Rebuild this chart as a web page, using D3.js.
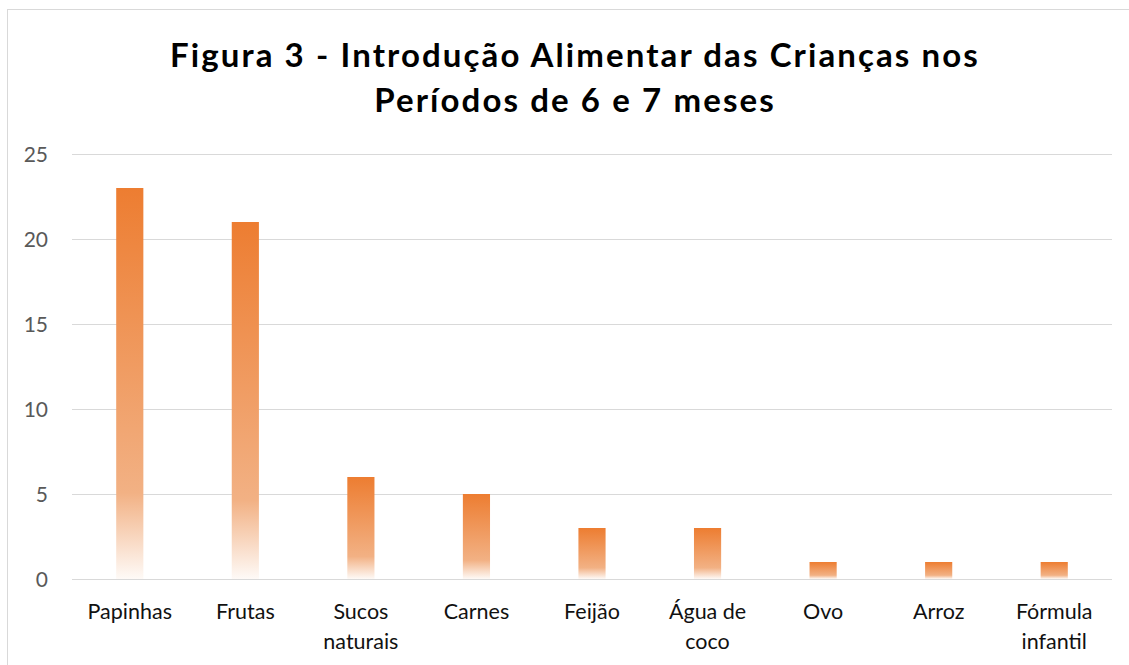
<!DOCTYPE html>
<html>
<head>
<meta charset="utf-8">
<script src="https://cdn.jsdelivr.net/npm/d3@7"></script>
<style>
  body { margin: 0; background: #fff; }
  svg { display: block; }
</style>
</head>
<body>
<div id="chart"></div>
<script>
const categories = [['Papinhas'], ['Frutas'], ['Sucos', 'naturais'], ['Carnes'], ['Feijão'],
  ['Água de', 'coco'], ['Ovo'], ['Arroz'], ['Fórmula', 'infantil']];
const values = [23, 21, 6, 5, 3, 3, 1, 1, 1];
const yTicks = [0, 5, 10, 15, 20, 25];
const titleLines = ['Figura 3 - Introdução Alimentar das Crianças nos', 'Períodos de 6 e 7 meses'];

const width = 1129, height = 665;
const margin = {top: 154, right: 17, bottom: 86, left: 72};

const svg = d3.select('#chart').append('svg')
  .attr('width', width)
  .attr('height', height);

// chart frame
svg.append('rect')
  .attr('x', 7.5).attr('y', 9.5)
  .attr('width', width + 10).attr('height', height + 10)
  .attr('fill', 'none')
  .attr('stroke', '#d9d9d9');

const defs = svg.append('defs');
const grad = defs.append('linearGradient')
  .attr('id', 'barGrad')
  .attr('x1', 0).attr('y1', 0).attr('x2', 0).attr('y2', 1);
grad.append('stop').attr('offset', '0%').attr('stop-color', '#ed7d31');
grad.append('stop').attr('offset', '78%').attr('stop-color', '#f2b184');
grad.append('stop').attr('offset', '100%').attr('stop-color', '#fefaf7');

const x = d3.scaleBand()
  .domain(categories.map(d => d.join(' ')))
  .range([margin.left, width - margin.right])
  .paddingInner(0.765)
  .paddingOuter(0.3825);

const y = d3.scaleLinear()
  .domain([0, 25])
  .range([height - margin.bottom, margin.top]);

// gridlines
svg.append('g')
  .selectAll('line')
  .data(yTicks)
  .enter().append('line')
  .attr('x1', margin.left)
  .attr('x2', width - margin.right)
  .attr('y1', d => Math.round(y(d)) + 0.5)
  .attr('y2', d => Math.round(y(d)) + 0.5)
  .attr('stroke', '#d9d9d9')
  .attr('stroke-width', 1);

// y axis labels
const yAxis = d3.axisLeft(y).tickValues(yTicks).tickSize(0).tickPadding(0);
svg.append('g')
  .attr('transform', 'translate(48,0)')
  .call(yAxis)
  .call(g => g.select('.domain').remove())
  .selectAll('text')
  .attr('font-family', 'Lato, sans-serif')
  .attr('font-size', 21)
  .attr('fill', '#595959')
  .attr('dy', '0.35em');

// bars
svg.append('g')
  .selectAll('rect')
  .data(values)
  .enter().append('rect')
  .attr('x', (d, i) => x(categories[i].join(' ')))
  .attr('width', x.bandwidth())
  .attr('y', d => y(d))
  .attr('height', d => y(0) - y(d))
  .attr('fill', 'url(#barGrad)');

// category labels
const cat = svg.append('g')
  .selectAll('text')
  .data(categories)
  .enter().append('text')
  .attr('x', d => x(d.join(' ')) + x.bandwidth() / 2)
  .attr('y', 619)
  .attr('text-anchor', 'middle')
  .attr('font-family', 'Lato, sans-serif')
  .attr('font-size', 21.5)
  .attr('fill', '#111');
cat.selectAll('tspan')
  .data(d => d)
  .enter().append('tspan')
  .attr('x', function() { return this.parentNode.getAttribute('x'); })
  .attr('dy', (d, i) => i === 0 ? 0 : 30)
  .text(d => d);

// title
svg.append('g')
  .selectAll('text')
  .data(titleLines)
  .enter().append('text')
  .attr('x', 575)
  .attr('y', (d, i) => 67 + i * 45)
  .attr('text-anchor', 'middle')
  .attr('font-family', 'Lato, sans-serif')
  .attr('font-weight', 'bold')
  .attr('font-size', 33)
  .attr('letter-spacing', 2.1)
  .attr('fill', '#000')
  .text(d => d);
</script>
</body>
</html>
